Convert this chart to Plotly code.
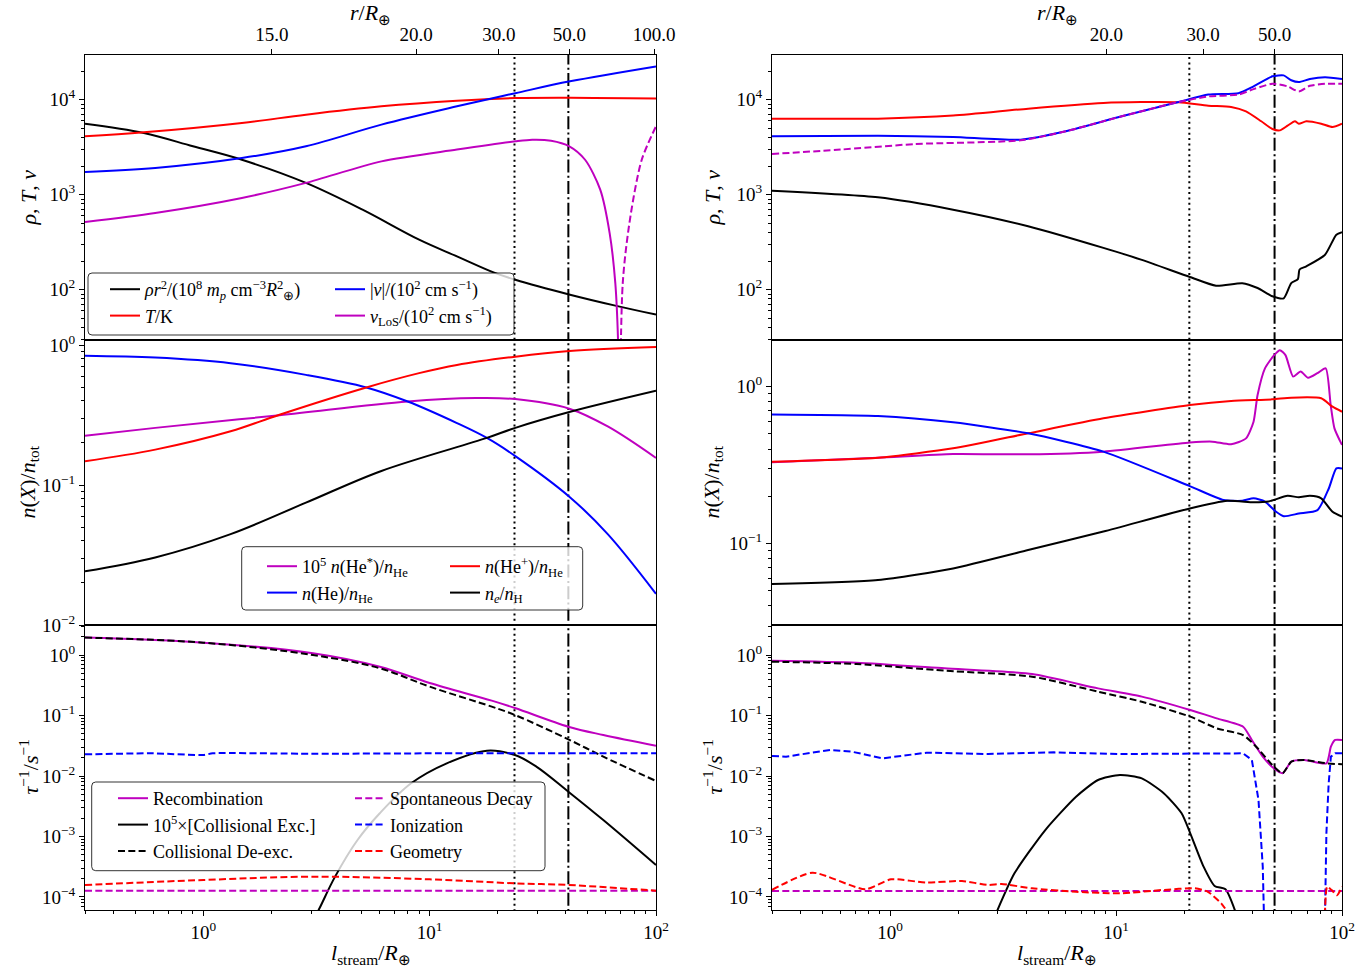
import numpy as np
import plotly.graph_objects as go

# ----------------------------------------------------------------- data ----
BLACK, RED, BLUE, MAG = "#000000", "#ff0000", "#0000ff", "#bf00bf"

VLINES_LEFT = [23.7, 41.0]      # dotted, dash-dot  (l_stream / R_earth)
VLINES_RIGHT = [21.1, 50.3]

TOPTICK_L_LEFT = [2.01, 8.72, 20.2, 41.4, 98.0]
TOPTICK_TEXT_LEFT = ["15.0", "20.0", "30.0", "50.0", "100.0"]
TOPTICK_L_RIGHT = [9.07, 24.3, 50.3]
TOPTICK_TEXT_RIGHT = ["20.0", "30.0", "50.0"]

X_TICKS = [1, 10, 100]
X_TICKTEXT = ["10<sup>0</sup>", "10<sup>1</sup>", "10<sup>2</sup>"]

# ---- left column, top panel
TL_RHO_L = [0.3, 0.546, 0.9, 1.48, 2.84, 5.05, 8.98, 13.2, 19.4, 23.9, 41.7, 66.1, 100]
TL_RHO = [5580, 4460, 3230, 2330, 1330, 695, 336, 224, 150, 127, 88.5, 67.9, 54.6]
TL_T_L = [0.3, 0.546, 1.48, 2.84, 6.12, 13.2, 23.9, 41.7, 100]
TL_T = [4110, 4530, 5680, 6950, 8510, 9750, 10400, 10500, 10300]
TL_V_L = [0.3, 0.613, 1.48, 2.84, 6.12, 13.2, 23.9, 41.7, 100]
TL_V = [1730, 1910, 2430, 3230, 5460, 8510, 11700, 15600, 22400]
TL_VLOS_L = [0.3, 0.613, 1.48, 2.84, 6.12, 13.2, 23.9, 28.4, 34.4, 41.4, 48.6, 56.7, 62.4, 66.1, 68.1, 69.2]
TL_VLOS = [515, 641, 923, 1330, 2240, 2980, 3640, 3790, 3700, 3230, 2330, 1130, 394, 117, 25, 1]
TL_VLOS_NEG_L = [69.2, 71.3, 77.1, 86.5, 100]
TL_VLOS_NEG = [1, 117, 592, 2330, 5240]

# ---- left column, middle panel
ML_HE_L = [0.3, 0.613, 1.32, 2.84, 5.25, 8.0, 13.2, 17.9, 23.9, 41.4, 61.2, 100]
ML_HE = [0.839, 0.813, 0.741, 0.612, 0.498, 0.395, 0.277, 0.217, 0.161, 0.0826, 0.0446, 0.0167]
ML_HEP_L = [0.3, 0.613, 1.32, 2.17, 5.25, 8.98, 13.2, 23.9, 41.4, 100]
ML_HEP = [0.148, 0.179, 0.242, 0.318, 0.498, 0.630, 0.721, 0.826, 0.906, 0.968]
ML_HES_L = [0.3, 0.613, 2.17, 8.0, 16.0, 23.9, 41.4, 61.2, 100]
ML_HES = [0.225, 0.256, 0.315, 0.395, 0.418, 0.411, 0.351, 0.262, 0.156]
ML_NE_L = [0.3, 0.613, 1.32, 2.84, 6.12, 17.9, 23.9, 41.4, 100]
ML_NE = [0.0242, 0.0304, 0.0446, 0.0748, 0.126, 0.217, 0.256, 0.332, 0.471]

# ---- left column, bottom panel
BL_RATE_L = [0.3, 1.0, 3.05, 6.02, 10.0, 18.8, 23.8, 41.0, 58.5, 100]
BL_REC = [1.94, 1.60, 1.07, 0.641, 0.345, 0.176, 0.133, 0.0653, 0.0476, 0.0317]
BL_DEX = [1.94, 1.60, 1.00, 0.603, 0.300, 0.140, 0.102, 0.0404, 0.0209, 0.00826]
BL_ION_L = [0.3, 0.6, 1.0, 1.1, 3.0, 10.0, 30.0, 100]
BL_ION = [0.0228, 0.0237, 0.0222, 0.0237, 0.0233, 0.0237, 0.0237, 0.0237]
BL_CEX_L = [3.05, 3.26, 3.82, 4.80, 6.02, 8.28, 11.9, 17.9, 23.8, 29.6, 41.0, 58.5, 100]
BL_CEX = [3.98e-5, 6.5e-5, 2.17e-4, 8.75e-4, 2.42e-3, 7.57e-3, 0.0162, 0.0262, 0.0222, 0.0143,
          5.51e-3, 1.87e-3, 3.38e-4]
BL_GEO_L = [0.3, 1.0, 3.05, 10.0, 23.8, 41.0, 100]
BL_GEO = [1.58e-4, 1.91e-4, 2.17e-4, 1.96e-4, 1.68e-4, 1.58e-4, 1.27e-4]
BL_SPD_L = [0.3, 100]
BL_SPD = [1.27e-4, 1.27e-4]

# ---- right column, top panel
TR_T_L = [0.3, 0.883, 1.90, 4.08, 8.79, 12.9, 18.9, 25.6, 32.3, 37.6, 43.9, 49.2, 53.1, 57.4, 61.9,
          64.4, 69.5, 80.9, 90.8, 100]
TR_T = [6310, 6310, 6790, 8040, 9230, 9440, 9380, 8650, 8380, 7530, 5920, 4910, 4750, 5320, 5920,
        5580, 5920, 5580, 5150, 5580]
TR_V_L = [0.3, 0.883, 1.90, 3.78, 5.99, 10.6, 18.9, 25.6, 34.8, 40.6, 49.2, 55.2, 59.6, 64.4, 72.1,
          84.1, 100]
TR_V = [4110, 4180, 4050, 3790, 4650, 6680, 9440, 11300, 11700, 13800, 17600, 18000, 16000, 15300,
        16500, 17200, 16500]
TR_VLOS_L = [0.3, 0.603, 1.29, 3.78, 5.99, 10.6, 18.9, 25.6, 34.8, 40.6, 49.2, 57.4, 64.4, 72.1, 84.1, 100]
TR_VLOS = [2680, 2980, 3410, 3730, 4650, 6680, 9440, 10800, 11300, 12900, 14700, 13800, 12200, 14000,
           14700, 14700]
TR_RHO_L = [0.3, 0.883, 1.90, 4.08, 8.79, 12.9, 21.2, 27.7, 36.2, 42.3, 49.2, 55.2, 59.6, 63.8, 64.9,
            69.5, 84.1, 94.4, 100]
TR_RHO = [1100, 938, 695, 465, 275, 207, 136, 110, 117, 104, 85.1, 81.1, 117, 129, 163, 176, 233, 379, 402]

# ---- right column, middle panel
MR_HE_L = [0.3, 0.883, 1.90, 4.08, 8.79, 21.2, 29.9, 36.2, 40.6, 45.6, 51.1, 55.2, 64.4, 77.9, 87.4, 94.4, 100]
MR_HE = [0.665, 0.650, 0.592, 0.504, 0.385, 0.232, 0.189, 0.187, 0.194, 0.185, 0.159, 0.149, 0.155,
         0.163, 0.224, 0.301, 0.301]
MR_HEP_L = [0.3, 0.883, 1.90, 4.08, 8.79, 21.2, 32.3, 49.2, 59.6, 80.9, 90.8, 100]
MR_HEP = [0.332, 0.352, 0.404, 0.504, 0.628, 0.764, 0.811, 0.830, 0.851, 0.843, 0.745, 0.692]
MR_HES_L = [0.3, 0.883, 1.90, 4.08, 8.79, 21.2, 26.7, 32.3, 37.6, 40.6, 42.3, 45.6, 50.1, 53.1, 56.2,
            60.8, 65.6, 70.8, 77.9, 84.7, 89.1, 92.6, 100]
MR_HES = [0.329, 0.352, 0.372, 0.370, 0.385, 0.440, 0.446, 0.429, 0.468, 0.598, 0.885, 1.31, 1.59,
          1.71, 1.59, 1.16, 1.25, 1.14, 1.22, 1.31, 0.764, 0.542, 0.425]
MR_NE_L = [0.3, 0.883, 1.90, 4.08, 8.79, 21.2, 31.1, 40.6, 47.3, 57.4, 64.4, 72.1, 80.9, 90.8, 100]
MR_NE = [0.0550, 0.0583, 0.0692, 0.0906, 0.119, 0.167, 0.187, 0.183, 0.185, 0.201, 0.197, 0.201,
         0.194, 0.159, 0.148]

# ---- right column, bottom panel
BR_REC_L = [0.3, 0.709, 1.74, 4.25, 8.32, 13.0, 21.3, 27.9, 36.5, 39.9, 44.6, 49.9, 54.6, 59.7, 68.2,
            85.3, 89.3, 93.3, 100]
BR_REC = [0.805, 0.746, 0.603, 0.485, 0.281, 0.205, 0.123, 0.0897, 0.0653, 0.0394, 0.0209, 0.0134,
          0.0111, 0.0173, 0.0184, 0.0162, 0.0305, 0.0394, 0.0394]
BR_DEX_L = [0.3, 0.709, 1.74, 4.25, 8.32, 13.0, 21.3, 27.9, 36.5, 41.7, 49.9, 54.6, 59.7, 68.2, 85.3, 100]
BR_DEX = [0.776, 0.710, 0.551, 0.439, 0.248, 0.169, 0.0957, 0.0614, 0.0476, 0.0305, 0.0143, 0.0111,
          0.0173, 0.0184, 0.0162, 0.0156]
BR_ION_L = [0.3, 0.346, 0.542, 0.678, 0.927, 1.45, 2.71, 5.32, 10.4, 36.5, 39.9, 42.7, 44.6, 45.6,
            83.5, 85.3, 87.3, 89.3, 93.3, 100]
BR_ION = [0.0214, 0.0209, 0.0269, 0.0252, 0.0196, 0.0243, 0.0231, 0.0246, 0.0231, 0.0237, 0.0184,
          0.00401, 3.17e-4, 1e-5, 1e-5, 1.13e-3, 7.57e-3, 0.0209, 0.0237, 0.0237]
BR_CEX_L = [2.97, 3.55, 4.86, 6.65, 8.32, 10.4, 13.0, 16.3, 19.5, 21.3, 24.4, 27.3, 30.5, 33.7]
BR_CEX = [5.8e-5, 2.46e-4, 1.28e-3, 4.55e-3, 8.59e-3, 0.0104, 9.14e-3, 5.16e-3, 2.42e-3, 1.13e-3,
          3.17e-4, 1.52e-4, 1.34e-4, 5.8e-5]
BR_GEO_L = [0.3, 0.453, 0.775, 1.01, 1.45, 2.08, 2.71, 3.11, 4.25, 6.65, 10.4, 16.3, 22.3, 25.5, 29.2,
            31.2, None, 84.0, 86.0, 90.0, 95.0, 100]
BR_GEO = [1.31e-4, 2.52e-4, 1.34e-4, 1.96e-4, 1.73e-4, 1.84e-4, 1.58e-4, 1.64e-4, 1.39e-4, 1.22e-4,
          1.15e-4, 1.31e-4, 1.39e-4, 1.22e-4, 7.85e-5, 5.6e-5, None, 5e-5, 1.48e-4, 1.3e-4, 1.07e-4, 1.48e-4]
BR_SPD_L = [0.3, 100]
BR_SPD = [1.26e-4, 1.26e-4]

# ------------------------------------------------------------- styling -----
W, H = 1370, 969
FONT = "Liberation Serif"
LW = 2.0
DASH = "7px,3.3px"
DOT = "2px,3.4px"
DASHDOT = "13px,3.3px,2px,3.3px"

XDOM = {1: [85 / W, 656 / W], 2: [772 / W, 1342 / W]}
YDOM = {1: [1 - 340 / H, 1 - 55 / H], 2: [1 - 625 / H, 1 - 340 / H], 3: [1 - 910 / H, 1 - 625 / H]}
YRANGE = {(1, 1): [1.47, 4.47], (1, 2): [1.47, 4.47],
          (2, 1): [-2.0, 0.036], (2, 2): [-1.521, 0.298],
          (3, 1): [-4.215, 0.496], (3, 2): [-4.215, 0.496]}
YTICKS = {(1, 1): [1e2, 1e3, 1e4], (1, 2): [1e2, 1e3, 1e4],
          (2, 1): [1e-2, 1e-1, 1], (2, 2): [1e-1, 1],
          (3, 1): [1e-4, 1e-3, 1e-2, 1e-1, 1], (3, 2): [1e-4, 1e-3, 1e-2, 1e-1, 1]}


def pow_label(v):
    e = int(round(np.log10(v)))
    return "10<sup>%s</sup>" % (str(e).replace("-", "−"))


def minor_vals(lo, hi):
    out = []
    for e in range(int(np.floor(lo)) - 1, int(np.ceil(hi)) + 1):
        for k in range(2, 10):
            v = k * 10.0 ** e
            if lo <= np.log10(v) <= hi:
                out.append(v)
    return out


def axid(row, col):
    return (row - 1) * 2 + col


fig = go.Figure()


def add(row, col, x, y, color, dash="solid", name=None, legend=None, shape="spline", smooth=0.6):
    i = axid(row, col)
    line = dict(color=color, width=LW, dash=dash, shape=shape)
    if shape == "spline":
        line["smoothing"] = smooth
    fig.add_trace(go.Scatter(
        x=x, y=y, mode="lines", name=name, line=line,
        xaxis="x" if i == 1 else "x%d" % i, yaxis="y" if i == 1 else "y%d" % i,
        showlegend=legend is not None, legend=legend if legend else "legend",
        hoverinfo="skip", connectgaps=False))


# vertical reference lines
for col, vl in ((1, VLINES_LEFT), (2, VLINES_RIGHT)):
    for row in (1, 2, 3):
        add(row, col, [vl[0], vl[0]], [1e-12, 1e12], BLACK, DOT, shape="linear")
        add(row, col, [vl[1], vl[1]], [1e-12, 1e12], BLACK, DASHDOT, shape="linear")

# top-left
add(1, 1, TL_RHO_L, TL_RHO, BLACK,
    name="<i>ρr</i><sup>2</sup>/(10<sup>8</sup> <i>m<sub>p</sub></i> cm<sup>−3</sup><i>R</i><sup>2</sup><sub>⊕</sub>)",
    legend="legend", smooth=1.0)
add(1, 1, TL_T_L, TL_T, RED, name="<i>T</i>/K", legend="legend", smooth=1.0)
add(1, 1, TL_V_L, TL_V, BLUE, name="|<i>v</i>|/(10<sup>2</sup> cm s<sup>−1</sup>)", legend="legend2",
    smooth=1.0)
add(1, 1, TL_VLOS_L, TL_VLOS, MAG, name="<i>v</i><sub>LoS</sub>/(10<sup>2</sup> cm s<sup>−1</sup>)",
    legend="legend2", smooth=0.8)
add(1, 1, TL_VLOS_NEG_L, TL_VLOS_NEG, MAG, DASH, smooth=0.8)

# middle-left
add(2, 1, ML_HES_L, ML_HES, MAG, name="10<sup>5</sup> <i>n</i>(He<sup>*</sup>)/<i>n</i><sub>He</sub>",
    legend="legend3", smooth=1.0)
add(2, 1, ML_HE_L, ML_HE, BLUE, name="<i>n</i>(He)/<i>n</i><sub>He</sub>", legend="legend3", smooth=1.0)
add(2, 1, ML_HEP_L, ML_HEP, RED, name="<i>n</i>(He<sup>+</sup>)/<i>n</i><sub>He</sub>", legend="legend4",
    smooth=1.0)
add(2, 1, ML_NE_L, ML_NE, BLACK, name="<i>n<sub>e</sub></i>/<i>n</i><sub>H</sub>", legend="legend4",
    smooth=1.0)

# bottom-left
add(3, 1, BL_RATE_L, BL_REC, MAG, name="Recombination", legend="legend5", smooth=1.0)
add(3, 1, BL_CEX_L, BL_CEX, BLACK, name="10<sup>5</sup>×[Collisional Exc.]", legend="legend5", smooth=1.0)
add(3, 1, BL_RATE_L, BL_DEX, BLACK, DASH, name="Collisional De-exc.", legend="legend5", smooth=1.0)
add(3, 1, BL_SPD_L, BL_SPD, MAG, DASH, name="Spontaneous Decay", legend="legend6", shape="linear")
add(3, 1, BL_ION_L, BL_ION, BLUE, DASH, name="Ionization", legend="legend6")
add(3, 1, BL_GEO_L, BL_GEO, RED, DASH, name="Geometry", legend="legend6", smooth=1.0)

# top-right
add(1, 2, TR_T_L, TR_T, RED)
add(1, 2, TR_V_L, TR_V, BLUE)
add(1, 2, TR_VLOS_L, TR_VLOS, MAG, DASH)
add(1, 2, TR_RHO_L, TR_RHO, BLACK)

# middle-right
add(2, 2, MR_HES_L, MR_HES, MAG)
add(2, 2, MR_HEP_L, MR_HEP, RED)
add(2, 2, MR_HE_L, MR_HE, BLUE)
add(2, 2, MR_NE_L, MR_NE, BLACK)

# bottom-right
add(3, 2, BR_REC_L, BR_REC, MAG)
add(3, 2, BR_CEX_L, BR_CEX, BLACK)
add(3, 2, BR_DEX_L, BR_DEX, BLACK, DASH)
add(3, 2, BR_SPD_L, BR_SPD, MAG, DASH, shape="linear")
add(3, 2, BR_ION_L, BR_ION, BLUE, DASH, shape="linear")
add(3, 2, BR_GEO_L, BR_GEO, RED, DASH)

# ------------------------------------------------------------- axes --------
layout = {}
tickfont = dict(family=FONT, size=19, color="black")
XR = [np.log10(0.3), 2.0]
xminor = minor_vals(XR[0], XR[1])
for row in (1, 2, 3):
    for col in (1, 2):
        i = axid(row, col)
        xk = "xaxis" if i == 1 else "xaxis%d" % i
        yk = "yaxis" if i == 1 else "yaxis%d" % i
        xa = dict(domain=XDOM[col], type="log", range=XR, anchor="y" if i == 1 else "y%d" % i,
                  showgrid=False, zeroline=False, showline=True, mirror=True, linecolor="black",
                  linewidth=1.2, tickfont=tickfont, tickcolor="black")
        if row == 1:
            tv = TOPTICK_L_LEFT if col == 1 else TOPTICK_L_RIGHT
            tt = TOPTICK_TEXT_LEFT if col == 1 else TOPTICK_TEXT_RIGHT
            xa.update(side="top", tickmode="array", tickvals=tv, ticktext=tt, ticks="outside", ticklen=5,
                      tickwidth=1)
        elif row == 2:
            xa.update(ticks="", showticklabels=False)
        else:
            xa.update(tickmode="array", tickvals=X_TICKS, ticktext=X_TICKTEXT, ticks="outside", ticklen=5,
                      tickwidth=1,
                      minor=dict(tickmode="array", tickvals=xminor, ticks="outside", ticklen=3,
                                 tickcolor="black", tickwidth=1))
        yr = YRANGE[(row, col)]
        ya = dict(domain=YDOM[row], type="log", range=yr, anchor="x" if i == 1 else "x%d" % i,
                  showgrid=False, zeroline=False, showline=True, mirror=True, linecolor="black",
                  linewidth=1.2, tickfont=tickfont, tickcolor="black", ticks="outside", ticklen=5,
                  tickwidth=1, tickmode="array", tickvals=YTICKS[(row, col)],
                  ticktext=[pow_label(v) for v in YTICKS[(row, col)]],
                  minor=dict(tickmode="array", tickvals=minor_vals(yr[0], yr[1]), ticks="outside",
                             ticklen=3, tickcolor="black", tickwidth=1))
        layout[xk] = xa
        layout[yk] = ya

# ------------------------------------------------------------- legends -----
lfont = dict(family=FONT, size=18, color="black")


def leg(xpx, ypx):
    return dict(x=xpx / W, y=1 - ypx / H, xanchor="left", yanchor="top", bgcolor="rgba(0,0,0,0)",
                borderwidth=0, font=lfont, orientation="v", tracegroupgap=0)


layout["legend"] = leg(105, 271)
layout["legend2"] = leg(330, 271)
layout["legend3"] = leg(262, 548)
layout["legend4"] = leg(445, 548)
layout["legend5"] = leg(113, 780)
layout["legend6"] = leg(350, 780)


def rbox(x0, y0, x1, y1, r=4):
    rx, ry = r / W, r / H
    X0, X1 = x0 / W, x1 / W
    Y0, Y1 = 1 - y1 / H, 1 - y0 / H
    p = ("M{a},{b} L{c},{b} Q{X1},{b0} {X1},{d} L{X1},{e} Q{X1},{Y1} {c},{Y1} "
         "L{a},{Y1} Q{X0},{Y1} {X0},{e} L{X0},{d} Q{X0},{b0} {a},{b} Z").format(
        a=X0 + rx, b=Y0, c=X1 - rx, X1=X1, b0=Y0, d=Y0 + ry, e=Y1 - ry, Y1=Y1, X0=X0)
    return dict(type="path", path=p, xref="paper", yref="paper", layer="above",
                fillcolor="rgba(255,255,255,0.8)", line=dict(color="rgba(0,0,0,0.8)", width=1))


shapes = [rbox(88, 273, 514, 335), rbox(241.7, 546.7, 582.7, 610), rbox(91.7, 782, 545, 870.7)]

# ------------------------------------------------------------- titles ------
afont = dict(family=FONT, size=22, color="black")
ann = []
for xc in (28, 712):
    for yc, txt in ((197.5, "<i>ρ</i>, <i>T</i>, <i>v</i>"),
                    (482.5, "<i>n</i>(<i>X</i>)/<i>n</i><sub>tot</sub>"),
                    (767.5, "<i>τ</i><sup>−1</sup>/<i>s</i><sup>−1</sup>")):
        ann.append(dict(x=xc / W, y=1 - yc / H, xref="paper", yref="paper", text=txt, textangle=-90,
                        showarrow=False, font=afont, xanchor="center", yanchor="middle"))
for xc in (370.5, 1057):
    ann.append(dict(x=xc / W, y=1 - 954 / H, xref="paper", yref="paper",
                    text="<i>l</i><sub>stream</sub>/<i>R</i><sub>⊕</sub>", showarrow=False, font=afont,
                    xanchor="center", yanchor="middle"))
    ann.append(dict(x=xc / W, y=1 - 14 / H, xref="paper", yref="paper",
                    text="<i>r</i>/<i>R</i><sub>⊕</sub>", showarrow=False, font=afont,
                    xanchor="center", yanchor="middle"))

fig.update_layout(
    width=W, height=H, autosize=False, margin=dict(l=0, r=0, t=0, b=0),
    paper_bgcolor="white", plot_bgcolor="white", template="none",
    font=dict(family=FONT, color="black"),
    shapes=shapes, annotations=ann, **layout)

fig.write_html("out.html", config={"displayModeBar": False},
               post_script="document.body.style.margin='0px';document.body.style.padding='0px';")
